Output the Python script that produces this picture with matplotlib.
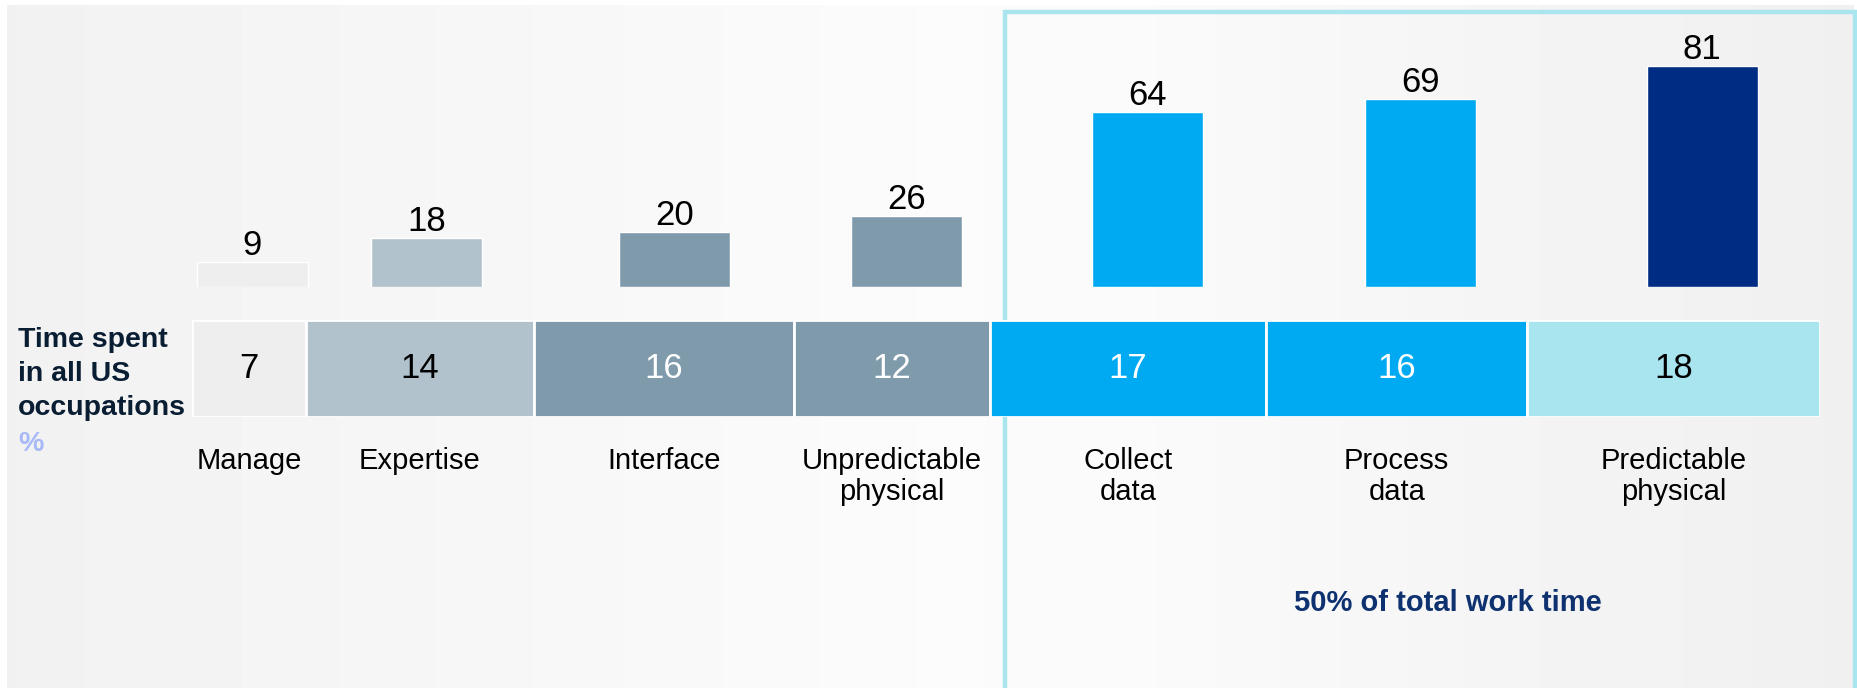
import numpy as np
import matplotlib.pyplot as plt
from matplotlib.lines import Line2D

plt.rcParams['font.family'] = ['Liberation Sans', 'DejaVu Sans']

categories = ['Manage', 'Expertise', 'Interface', 'Unpredictable\nphysical',
              'Collect\ndata', 'Process\ndata', 'Predictable\nphysical']
automation = [9, 18, 20, 26, 64, 69, 81]     # bars on top
time_share = [7, 14, 16, 12, 17, 16, 18]     # stacked strip, % of time

bar_colors = ['#eeeeee', '#b1c2cc', '#7f9bab', '#7f9bab', '#00aaf2', '#00aaf2', '#002c83']
strip_colors = ['#eeeeee', '#b1c2cc', '#7f9bab', '#7f9bab', '#00aaf2', '#00aaf2', '#a9e5ef']
strip_text = ['black', 'black', 'white', 'white', 'white', 'white', 'black']

W, H = 1858, 688
fig = plt.figure(figsize=(W / 100, H / 100), dpi=100)
fig.patch.set_facecolor('white')

# soft grey backdrop, lighter in the middle
bg = fig.add_axes([7 / W, 0, (1854 - 7) / W, 683 / H], zorder=0)
xs = np.linspace(0, 1, 400)
shade = np.interp(xs, [0, 0.1, 0.5, 0.6, 0.8, 1], [0.945, 0.955, 0.985, 0.983, 0.96, 0.94])
bg.imshow(np.tile(shade, (2, 1)), cmap='gray', vmin=0, vmax=1, aspect='auto',
          extent=[0, 1, 0, 1])
bg.axis('off')

# outline around the last three activities
x0, x1, ytop = 1005 / W, 1855 / W, 1 - 12 / H
bg.add_line(Line2D([x0, x0, x1, x1], [0, ytop, ytop, 0], transform=fig.transFigure,
                   color='#a9e5ef', lw=3.2, clip_on=False, solid_joinstyle='miter'))

lefts = np.concatenate([[0], np.cumsum(time_share)[:-1]])
centers = lefts + np.array(time_share) / 2

# top: automation potential bars
ax = fig.add_axes([194.5 / W, (H - 287) / H, 1656.6 / W, 273 / H], zorder=2)
ax.bar(centers, automation, width=6.7, color=bar_colors, edgecolor='white', linewidth=1)
for c, v in zip(centers, automation):
    ax.annotate(str(v), xy=(c, v), xytext=(0, 0), textcoords='offset points',
                ha='center', va='bottom', fontsize=25, color='black')
ax.set_xlim(0, 100)
ax.set_ylim(0, 100)
ax.axis('off')

# bottom: time spent strip
ax2 = fig.add_axes([192 / W, (H - 417) / H, 1628 / W, 97 / H], zorder=3)
ax2.barh(0.5, time_share, left=lefts, height=1, color=strip_colors,
         edgecolor='white', linewidth=2)
for c, v, tc in zip(centers, time_share, strip_text):
    ax2.text(c, 0.5, str(v), ha='center', va='center', fontsize=25, color=tc)
for c, name in zip(centers, categories):
    ax2.text(c, -0.31, name, transform=ax2.get_xaxis_transform(), ha='center', va='top',
             fontsize=21, linespacing=1.15, color='black')
ax2.set_xlim(0, 100)
ax2.set_ylim(0, 1)
ax2.axis('off')

fig.text(18 / W, 1 - 327 / H, 'Time spent\nin all US\noccupations', ha='left', va='top',
         fontsize=20.5, fontweight='bold', color='#0a1e33', linespacing=1.39)
fig.text(18 / W, 1 - 431 / H, '%', ha='left', va='top', fontsize=20.5,
         fontweight='bold', color='#a8b9f8')
fig.text(1448 / W, 1 - 589 / H, '50% of total work time', ha='center', va='top',
         fontsize=21, fontweight='bold', color='#0e3170')

fig.savefig('out.png', dpi=100)
